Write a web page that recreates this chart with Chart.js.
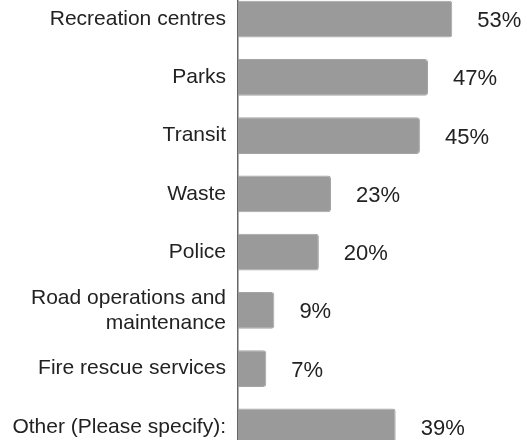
<!DOCTYPE html>
<html>
<head>
<meta charset="utf-8">
<script src="https://cdn.jsdelivr.net/npm/chart.js@4"></script>
<style>
    html, body { margin: 0; padding: 0; background: #fff; }
    #frame { width: 527px; height: 440px; overflow: hidden; position: relative; }
    #holder { position: absolute; left: 0; top: -10px; width: 527px; height: 466px; }
</style>
</head>
<body>
<div id="frame">
    <div id="holder"><canvas id="serviceChart"></canvas></div>
</div>
<script>
const categories = [
    'Recreation centres',
    'Parks',
    'Transit',
    'Waste',
    'Police',
    ['Road operations and', 'maintenance'],
    'Fire rescue services',
    'Other (Please specify):'
];
const percentages = [53, 47, 45, 23, 20, 9, 7, 39];
const valueLabels = ['53%', '47%', '45%', '23%', '20%', '9%', '7%', '39%'];

const fontFamily = '"Liberation Sans", Arial, sans-serif';

// writes the percent text to the right of each bar
const valueLabelPlugin = {
    id: 'valueLabels',
    afterDatasetsDraw(chart) {
        const ctx = chart.ctx;
        const meta = chart.getDatasetMeta(0);
        ctx.save();
        ctx.font = '22px ' + fontFamily;
        ctx.fillStyle = '#222';
        ctx.textAlign = 'left';
        ctx.textBaseline = 'middle';
        meta.data.forEach((bar, i) => {
            ctx.fillText(valueLabels[i], bar.x + 25, bar.y + 2);
        });
        ctx.restore();
    }
};

new Chart(document.getElementById('serviceChart'), {
    type: 'bar',
    data: {
        labels: categories,
        datasets: [{
            data: percentages,
            backgroundColor: '#9a9a9a',
            borderColor: '#a4a4a4',
            borderWidth: 1,
            borderRadius: 3,
            borderSkipped: 'start',
            categoryPercentage: 1,
            barPercentage: 0.63
        }]
    },
    options: {
        indexAxis: 'y',
        responsive: true,
        maintainAspectRatio: false,
        animation: false,
        layout: { padding: { top: 0, bottom: 0, left: 0, right: 6 } },
        plugins: {
            legend: { display: false },
            tooltip: { enabled: false }
        },
        scales: {
            x: {
                display: false,
                min: 0,
                max: 70
            },
            y: {
                afterFit(scale) {
                    scale.width = 238;
                    scale.paddingTop = 0;
                    scale.paddingBottom = 0;
                },
                grid: { display: false, drawTicks: false },
                border: { display: true, color: '#666', width: 1.5 },
                ticks: {
                    padding: 12,
                    color: '#222',
                    font: { family: fontFamily, size: 21, lineHeight: 1.19 }
                }
            }
        }
    },
    plugins: [valueLabelPlugin]
});
</script>
</body>
</html>
